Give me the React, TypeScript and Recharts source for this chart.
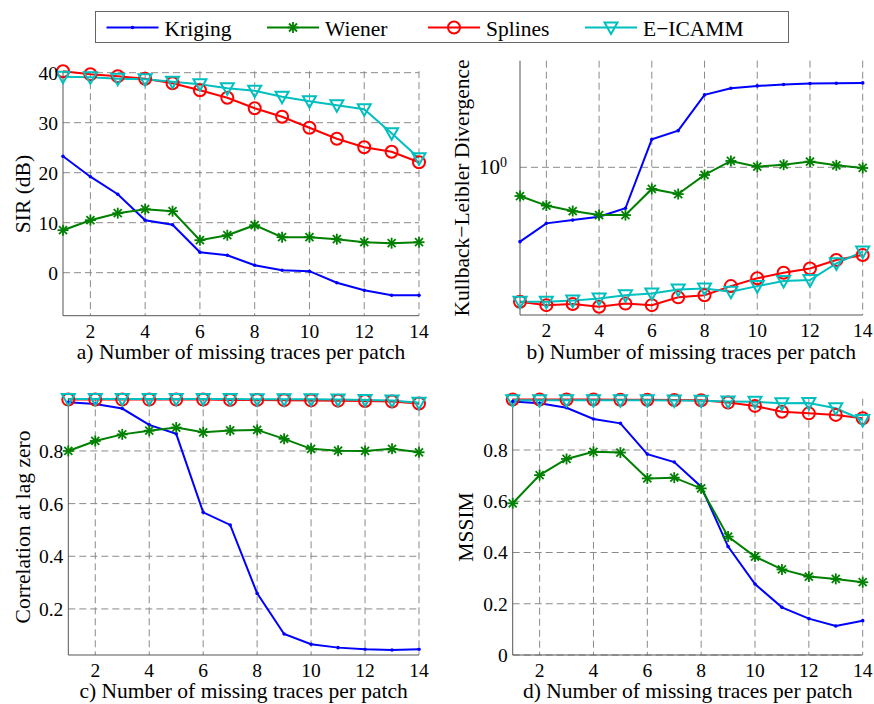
import React from "react";
import {
  LineChart,
  Line,
  XAxis,
  YAxis,
  CartesianGrid,
} from "recharts";

// ---------- data ----------
const X = [1, 2, 3, 4, 5, 6, 7, 8, 9, 10, 11, 12, 13, 14];
const X_TICKS = [2, 4, 6, 8, 10, 12, 14];

const SERIES_NAMES = ["Kriging", "Wiener", "Splines", "E\u2212ICAMM"];

// a) SIR (dB)
const krigingSIR = [23.3, 19.2, 15.7, 10.5, 9.6, 4.1, 3.5, 1.5, 0.5, 0.3, -2.0, -3.5, -4.5, -4.5];
const wienerSIR = [8.5, 10.5, 11.9, 12.7, 12.3, 6.5, 7.5, 9.5, 7.1, 7.1, 6.7, 6.1, 5.9, 6.1];
const splinesSIR = [40.3, 39.7, 39.3, 38.8, 37.9, 36.5, 35.0, 32.9, 31.2, 29.0, 26.8, 25.1, 24.2, 22.1];
const eicammSIR = [39.2, 39.1, 38.8, 38.7, 38.2, 37.7, 36.9, 36.4, 35.2, 34.3, 33.5, 32.7, 27.9, 22.9];
const SIR_TICKS = [0, 10, 20, 30, 40];

// b) Kullback-Leibler divergence (log scale)
const krigingKL = [0.51, 0.602, 0.62, 0.639, 0.69, 1.289, 1.394, 1.927, 2.047, 2.09, 2.116, 2.135, 2.142, 2.148];
const wienerKL = [0.771, 0.707, 0.673, 0.649, 0.649, 0.822, 0.785, 0.933, 1.059, 1.006, 1.024, 1.053, 1.018, 0.994];
const splinesKL = [0.296, 0.287, 0.29, 0.283, 0.291, 0.287, 0.308, 0.314, 0.341, 0.366, 0.385, 0.4, 0.432, 0.452];
const eicammKL = [0.296, 0.296, 0.299, 0.305, 0.314, 0.319, 0.331, 0.334, 0.324, 0.341, 0.357, 0.36, 0.419, 0.466];
const KL_TICKS = [1];

// c) Correlation at lag zero
const krigingCorr = [0.985, 0.978, 0.961, 0.899, 0.865, 0.567, 0.519, 0.259, 0.105, 0.066, 0.053, 0.047, 0.044, 0.047];
const wienerCorr = [0.8, 0.838, 0.863, 0.877, 0.889, 0.871, 0.878, 0.88, 0.846, 0.808, 0.801, 0.8, 0.808, 0.795];
const splinesCorr = [0.995, 0.995, 0.995, 0.995, 0.995, 0.995, 0.994, 0.994, 0.993, 0.992, 0.991, 0.99, 0.988, 0.98];
const eicammCorr = [0.997, 0.997, 0.997, 0.997, 0.997, 0.997, 0.997, 0.996, 0.996, 0.996, 0.995, 0.994, 0.992, 0.983];
const CORR_TICKS = [0.2, 0.4, 0.6, 0.8];

// d) MSSIM
const krigingMS = [0.989, 0.982, 0.965, 0.921, 0.904, 0.784, 0.753, 0.657, 0.423, 0.277, 0.186, 0.142, 0.113, 0.134];
const wienerMS = [0.592, 0.702, 0.765, 0.793, 0.79, 0.689, 0.692, 0.65, 0.462, 0.384, 0.334, 0.306, 0.297, 0.284];
const splinesMS = [0.997, 0.997, 0.997, 0.997, 0.996, 0.996, 0.995, 0.994, 0.985, 0.972, 0.949, 0.943, 0.937, 0.924];
const eicammMS = [0.994, 0.994, 0.994, 0.994, 0.994, 0.994, 0.993, 0.992, 0.989, 0.988, 0.982, 0.983, 0.963, 0.917];
const MS_TICKS = [0, 0.2, 0.4, 0.6, 0.8];

// ---------- styles ----------
const FONT = "'Liberation Serif', 'Times New Roman', serif";
const BLUE = "#0000ff";
const GREEN = "#008000";
const RED = "#ff0000";
const CYAN = "#00bfbf";
const GRID = "#8a8a8a";
const AXIS = "#555555";
const TICK_FS = 19.5;
const TITLE_FS = 21.5;

const build = (a: number[], b: number[], c: number[], d: number[]) =>
  X.map((x, i) => ({ x, kriging: a[i], wiener: b[i], splines: c[i], eicamm: d[i] }));

const sirData = build(krigingSIR, wienerSIR, splinesSIR, eicammSIR);
const klData = build(krigingKL, wienerKL, splinesKL, eicammKL);
const corrData = build(krigingCorr, wienerCorr, splinesCorr, eicammCorr);
const msData = build(krigingMS, wienerMS, splinesMS, eicammMS);

// ---------- markers ----------
const PointMark = ({ cx, cy }: any) => <circle cx={cx} cy={cy} r={1.8} fill={BLUE} />;
const StarMark = ({ cx, cy }: any) => (
  <g stroke={GREEN} strokeWidth={1.8}>
    <line x1={cx - 5.5} y1={cy} x2={cx + 5.5} y2={cy} />
    <line x1={cx} y1={cy - 5.5} x2={cx} y2={cy + 5.5} />
    <line x1={cx - 4} y1={cy - 4} x2={cx + 4} y2={cy + 4} />
    <line x1={cx - 4} y1={cy + 4} x2={cx + 4} y2={cy - 4} />
  </g>
);
const CircleMark = ({ cx, cy }: any) => (
  <circle cx={cx} cy={cy} r={6} fill="none" stroke={RED} strokeWidth={2} />
);
const TriMark = ({ cx, cy }: any) => (
  <polygon
    points={`${cx - 6.5},${cy - 5} ${cx + 6.5},${cy - 5} ${cx},${cy + 6.5}`}
    fill="none"
    stroke={CYAN}
    strokeWidth={2}
  />
);

const dotFn = (M: any) => (p: any) =>
  p.cx == null || p.cy == null ? <g key={`n${p.index}`} /> : <M key={`m${p.index}`} cx={p.cx} cy={p.cy} />;

// ---------- panel ----------
type PanelProps = {
  data: any[];
  box: { x: number; y: number; w: number; h: number };
  plot: { l: number; t: number; r: number; b: number };
  yDomain: [number, number];
  yTicks: number[];
  yScale?: "log" | "linear";
  yFmt?: (v: number) => string;
  yGap: number;
  supTick?: boolean;
  yLabel: string;
  yLabelX: number; // page coords
  yLabelY: number;
  xTitle: string;
  xTitleY: number; // page coords baseline
};

function Panel(props: PanelProps) {
  const { data, box, plot, yDomain, yTicks, yScale, yFmt, yGap, supTick, yLabel, yLabelX, yLabelY, xTitle, xTitleY } = props;
  const margin = { top: plot.t - box.y, right: box.x + box.w - plot.r, left: 0, bottom: 0 };
  const yAxisWidth = plot.l - box.x;
  const xAxisHeight = box.y + box.h - plot.b;
  const xCenter = (plot.l + plot.r) / 2 - box.x;

  const yTickRender = (p: any) => {
    const { x, y, payload } = p;
    if (supTick) {
      return (
        <text x={x} y={y + 7} textAnchor="end" fontFamily={FONT} fontSize={21} fill="#000">
          10
          <tspan fontSize={14} dy={-7}>0</tspan>
        </text>
      );
    }
    return (
      <text x={x} y={y} dy="0.355em" textAnchor="end" fontFamily={FONT} fontSize={TICK_FS} fill="#000">
        {yFmt ? yFmt(payload.value) : String(payload.value)}
      </text>
    );
  };

  return (
    <div style={{ position: "absolute", left: box.x, top: box.y, width: box.w, height: box.h }}>
      <LineChart width={box.w} height={box.h} data={data} margin={margin}>
        <CartesianGrid
          stroke={GRID}
          strokeDasharray="7 4"
          strokeWidth={1}
          horizontalValues={yTicks}
          verticalValues={X_TICKS}
        />
        <XAxis
          type="number"
          dataKey="x"
          domain={[1, 14]}
          ticks={X_TICKS}
          interval={0}
          height={xAxisHeight}
          tickLine={false}
          tickSize={6}
          tickMargin={2}
          axisLine={{ stroke: AXIS, strokeWidth: 1 }}
          tick={{ fontFamily: FONT, fontSize: TICK_FS, fill: "#000" }}
          label={() => (
            <text x={xCenter} y={xTitleY - box.y} textAnchor="middle" fontFamily={FONT} fontSize={TITLE_FS} fill="#000">
              {xTitle}
            </text>
          )}
        />
        <YAxis
          type="number"
          scale={yScale === "log" ? "log" : "auto"}
          domain={yDomain}
          allowDataOverflow={false}
          ticks={yTicks}
          interval={0}
          width={yAxisWidth}
          tickLine={false}
          tickSize={yGap - 2}
          tickMargin={2}
          axisLine={{ stroke: AXIS, strokeWidth: 1 }}
          tick={yTickRender}
          label={() => (
            <text
              x={yLabelX - box.x}
              y={yLabelY - box.y}
              transform={`rotate(-90 ${yLabelX - box.x} ${yLabelY - box.y})`}
              textAnchor="middle"
              fontFamily={FONT}
              fontSize={TITLE_FS}
              fill="#000"
            >
              {yLabel}
            </text>
          )}
        />
        <Line dataKey="kriging" name={SERIES_NAMES[0]} stroke={BLUE} strokeWidth={2} dot={dotFn(PointMark)} isAnimationActive={false} />
        <Line dataKey="wiener" name={SERIES_NAMES[1]} stroke={GREEN} strokeWidth={2} dot={dotFn(StarMark)} isAnimationActive={false} />
        <Line dataKey="splines" name={SERIES_NAMES[2]} stroke={RED} strokeWidth={2} dot={dotFn(CircleMark)} isAnimationActive={false} />
        <Line dataKey="eicamm" name={SERIES_NAMES[3]} stroke={CYAN} strokeWidth={2} dot={dotFn(TriMark)} isAnimationActive={false} />
      </LineChart>
    </div>
  );
}

// ---------- legend ----------
const LEGEND_MARKS = [PointMark, StarMark, CircleMark, TriMark];
const LEGEND_COLORS = [BLUE, GREEN, RED, CYAN];
const LEGEND_X = [106.5, 267, 428, 585];

function LegendBox() {
  return (
    <svg width={874} height={50} style={{ position: "absolute", left: 0, top: 0 }}>
      <rect x={95.5} y={11.5} width={693} height={31} fill="#fff" stroke="#666" strokeWidth={1} />
      {SERIES_NAMES.map((name, i) => {
        const x0 = LEGEND_X[i];
        const M = LEGEND_MARKS[i];
        return (
          <g key={name}>
            <line x1={x0} y1={27.5} x2={x0 + 52} y2={27.5} stroke={LEGEND_COLORS[i]} strokeWidth={2} />
            <M cx={x0 + 26} cy={27.5} />
            <text x={x0 + 58} y={36} fontFamily={FONT} fontSize={TITLE_FS} fill="#000">
              {name}
            </text>
          </g>
        );
      })}
    </svg>
  );
}

export default function App() {
  return (
    <div style={{ position: "absolute", left: 0, top: 0, width: 874, height: 704, background: "#fff" }}>
      <Panel
        data={sirData}
        box={{ x: 0, y: 50, w: 440, h: 330 }}
        plot={{ l: 63, t: 71.2, r: 419, b: 315.7 }}
        yDomain={[-8.6, 40.3]}
        yTicks={SIR_TICKS}
        yGap={5}
        yLabel="SIR (dB)"
        yLabelX={29.5}
        yLabelY={194}
        xTitle="a) Number of missing traces per patch"
        xTitleY={358.5}
      />
      <Panel
        data={klData}
        box={{ x: 440, y: 45, w: 434, h: 335 }}
        plot={{ l: 520, t: 60.7, r: 862.7, b: 315 }}
        yDomain={[0.2625, 2.626]}
        yScale="log"
        yTicks={KL_TICKS}
        yGap={13}
        supTick={true}
        yLabel={"Kullback\u2212Leibler Divergence"}
        yLabelX={469}
        yLabelY={188}
        xTitle="b) Number of missing traces per patch"
        xTitleY={358.5}
      />
      <Panel
        data={corrData}
        box={{ x: 0, y: 380, w: 440, h: 324 }}
        plot={{ l: 68.3, t: 398.3, r: 419, b: 655 }}
        yDomain={[0.025, 1.0]}
        yTicks={CORR_TICKS}
        yFmt={(v) => v.toFixed(1)}
        yGap={5}
        yLabel="Correlation at lag zero"
        yLabelX={29.5}
        yLabelY={527}
        xTitle="c) Number of missing traces per patch"
        xTitleY={698}
      />
      <Panel
        data={msData}
        box={{ x: 440, y: 380, w: 434, h: 324 }}
        plot={{ l: 512.7, t: 398.75, r: 862.7, b: 655 }}
        yDomain={[0, 1.0]}
        yTicks={MS_TICKS}
        yFmt={(v) => (v === 0 ? "0" : v.toFixed(1))}
        yGap={5}
        yLabel="MSSIM"
        yLabelX={473}
        yLabelY={527}
        xTitle="d) Number of missing traces per patch"
        xTitleY={698}
      />
      <LegendBox />
    </div>
  );
}
